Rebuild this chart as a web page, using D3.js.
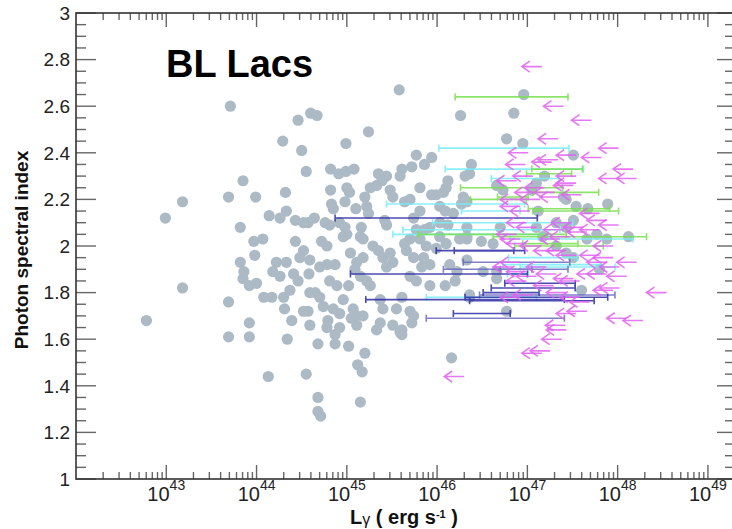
<!DOCTYPE html>
<html>
<head>
<meta charset="utf-8">
<script src="https://cdn.jsdelivr.net/npm/d3@7"></script>
<style>
body { margin: 0; background: #fff; }
svg { display: block; font-family: "Liberation Sans", Arial, Helvetica, sans-serif; }
</style>
</head>
<body>
<div id="chart"></div>
<script>
// detected sources: [log10 L, photon index]
var detected = [
[43.71,2.60],[44.46,2.54],[44.60,2.57],[44.67,2.56],[45.24,2.49],[45.58,2.67],[44.29,2.45],[44.50,2.41],[44.99,2.44],[44.55,2.32],
[44.82,2.33],[44.91,2.31],[44.99,2.32],[45.08,2.33],[45.35,2.31],[45.44,2.30],[45.39,2.28],[43.85,2.28],[43.69,2.21],[43.99,2.21],
[44.32,2.23],[43.18,2.19],[42.99,2.12],[44.82,2.24],[45.00,2.25],[45.03,2.23],[45.26,2.25],[45.33,2.26],[45.48,2.24],[45.51,2.21],
[45.20,2.21],[44.83,2.18],[44.85,2.16],[44.98,2.19],[45.10,2.16],[45.22,2.17],[45.24,2.14],[44.33,2.15],[44.14,2.13],[44.26,2.12],
[44.43,2.11],[44.52,2.10],[44.57,2.10],[44.64,2.12],[44.76,2.10],[44.81,2.09],[44.92,2.10],[44.98,2.08],[45.00,2.05],[44.96,2.04],
[45.16,2.08],[45.15,2.04],[45.18,2.03],[45.42,2.11],[45.44,2.09],[43.82,2.08],[43.97,2.02],[44.07,2.03],[44.43,2.02],[44.52,1.98],
[44.48,1.95],[44.72,2.02],[44.78,2.00],[44.59,1.94],[43.98,1.96],[43.82,1.93],[44.22,1.93],[44.33,1.93],[44.18,1.89],[44.26,1.87],
[43.86,1.89],[43.85,1.86],[44.41,1.88],[44.46,1.85],[44.58,1.88],[44.70,1.91],[44.78,1.92],[44.87,1.92],[45.04,1.97],[45.18,1.95],
[45.29,2.00],[45.35,1.98],[45.40,1.95],[45.48,1.97],[45.51,1.93],[45.44,1.91],[45.11,1.93],[45.09,1.90],[45.15,1.87],[45.02,1.83],
[45.22,1.85],[45.26,1.83],[44.81,1.85],[44.89,1.83],[43.92,1.83],[44.00,1.84],[43.18,1.82],[44.08,1.78],[44.17,1.78],[44.30,1.78],
[44.37,1.81],[44.59,1.80],[44.65,1.80],[44.70,1.78],[44.74,1.74],[44.96,1.77],[43.69,1.76],[44.31,1.73],[44.85,1.73],[44.92,1.71],
[45.07,1.73],[45.11,1.70],[45.18,1.70],[45.05,1.69],[45.37,1.77],[45.40,1.73],[45.55,1.73],[42.78,1.68],[44.39,1.68],[44.57,1.72],
[44.52,1.72],[44.79,1.68],[44.78,1.65],[43.92,1.67],[44.59,1.66],[44.92,1.65],[44.87,1.62],[45.11,1.66],[45.33,1.64],[45.37,1.67],
[45.51,1.66],[45.59,1.63],[43.69,1.61],[43.92,1.61],[44.34,1.60],[44.68,1.58],[44.87,1.58],[45.02,1.57],[45.20,1.54],[45.12,1.49],
[45.17,1.46],[44.13,1.44],[44.55,1.45],[44.68,1.35],[45.15,1.33],[44.68,1.29],[44.71,1.27],
[45.77,2.39],[45.94,2.38],[45.86,2.35],[45.72,2.34],[45.61,2.33],[45.59,2.30],[46.38,2.35],[46.36,2.31],[46.31,2.30],[46.12,2.28],
[46.10,2.25],[46.07,2.23],[45.99,2.22],[45.94,2.22],[45.81,2.25],[45.70,2.20],[45.64,2.19],[46.03,2.17],[46.09,2.15],[46.18,2.14],
[45.81,2.15],[45.74,2.12],[46.33,2.19],[46.27,2.18],[46.29,2.21],[46.66,2.26],[46.73,2.24],[46.77,2.46],[46.95,2.44],[46.03,2.10],
[46.12,2.09],[45.92,2.08],[45.86,2.07],[45.77,2.07],[45.70,2.03],[45.64,2.01],[46.33,2.08],[46.33,2.04],[46.25,2.03],[45.81,2.03],
[45.88,2.00],[46.03,2.04],[46.10,2.01],[45.99,1.99],[46.62,2.01],[46.70,2.08],[45.85,1.95],[45.74,1.95],[45.66,1.98],[45.92,1.92],
[45.83,1.91],[45.70,1.87],[45.77,1.85],[45.92,1.83],[46.09,1.83],[46.20,1.85],[46.51,1.89],[46.36,1.78],[46.77,1.72],[45.61,1.78],
[45.70,1.72],[45.72,1.67],[45.61,1.64],
[46.96,2.65],[46.26,2.56],[46.85,2.57],[47.51,2.39],[47.19,2.30],[47.10,2.27],[47.05,2.24],[47.40,2.21],[47.43,2.20],[47.89,2.18],
[47.67,2.16],[47.54,2.17],[47.12,2.15],[47.32,2.10],[47.43,2.08],[47.51,2.11],[47.88,2.03],[48.12,2.04],[47.66,2.03],[47.77,2.05],
[47.10,2.08],[47.17,2.04],[46.49,2.02],[46.33,2.03],[47.43,1.97],[47.51,1.95],[46.14,1.92],[46.22,1.89],[46.66,1.89],[47.32,2.00],
[46.66,1.86],[46.33,1.94],[47.60,1.81],[47.80,1.90],[46.36,1.79],[46.16,1.52],[45.74,1.70],[45.61,1.62]
];

// luminosity ranges: [photon index, log10 L low, log10 L high]
var greenBars = [
[2.64,46.20,47.45],[2.33,47.05,47.61],[2.31,46.99,47.49],[2.25,46.26,47.39],[2.23,47.06,47.79],[2.21,46.67,47.01],
[2.20,46.37,46.99],[2.16,47.01,47.91],[2.15,47.06,48.01],[2.05,45.79,47.43],[2.04,46.62,48.32],[2.01,46.95,47.56],[2.00,46.86,47.84]
];
var cyanBars = [
[2.42,46.02,47.46],[2.33,46.09,47.62],[2.29,46.60,47.35],[2.18,45.44,46.97],[2.15,46.27,46.92],[2.10,45.95,47.50],[2.07,45.62,47.36],
[2.05,45.51,47.23],[2.03,46.81,48.17],[1.95,46.79,47.55],[1.92,46.73,47.82],[1.91,46.92,47.97],[1.88,46.78,47.01],[1.78,45.88,47.10]
];
var navyBars = [
[2.12,44.87,47.11],[1.98,45.99,46.85],[1.98,46.19,46.97],[1.88,45.04,47.00],[1.84,46.75,47.53],[1.82,46.60,47.53],
[1.80,46.51,47.13],[1.78,46.31,47.89],[1.77,45.21,47.41],[1.765,46.36,47.74],[1.71,46.18,46.81]
];
var slateBars = [
[1.93,46.29,47.47],[1.90,46.07,47.45],[1.90,46.70,47.05],[1.79,46.47,47.97],[1.69,45.88,47.41]
];

// upper limits: [log10 L limit, photon index]
var upperLimits = [
[47.16,2.77],[47.40,2.60],[47.71,2.54],[47.34,2.46],[48.01,2.42],[47.01,2.40],[47.54,2.39],[47.82,2.38],[46.98,2.35],[47.27,2.36],
[47.34,2.37],[48.17,2.33],[48.01,2.29],[48.21,2.29],[47.54,2.30],[47.06,2.30],[46.88,2.28],[47.51,2.26],[47.19,2.25],[47.30,2.23],
[47.08,2.23],[46.92,2.20],[47.36,2.21],[47.60,2.22],[46.92,2.17],[47.14,2.20],[47.03,2.15],[48.01,2.09],[47.80,2.14],[47.88,2.11],
[47.49,2.10],[47.62,2.08],[47.40,2.07],[46.99,2.10],[47.10,2.08],[46.88,2.05],[46.92,2.03],[46.99,2.01],[47.14,2.00],[47.36,2.03],
[47.47,2.04],[47.66,2.06],[47.80,2.07],[47.95,2.00],[47.43,1.98],[47.54,1.96],[46.92,1.93],[46.84,1.91],[46.99,1.89],[47.21,1.91],
[47.32,1.88],[47.88,1.93],[48.02,1.91],[48.21,1.93],[47.77,1.88],[48.10,1.87],[47.54,2.27],[47.29,1.98],[47.80,1.96],[47.95,1.95],
[47.88,1.88],[47.10,1.87],[46.99,1.85],[47.51,1.86],[47.58,1.85],[47.95,1.81],[48.02,1.82],[48.54,1.80],[47.29,1.83],[47.43,1.80],
[46.92,1.78],[47.06,1.79],[47.58,1.78],[47.69,1.76],[47.54,1.71],[48.10,1.69],[48.28,1.68],[47.42,1.66],[47.43,1.64],[47.38,1.60],
[47.16,1.54],[47.25,1.55],[46.30,1.44],[47.66,1.72]
];

var yMajor = [1, 1.2, 1.4, 1.6, 1.8, 2, 2.2, 2.4, 2.6, 2.8, 3];
var xDecades = [43, 44, 45, 46, 47, 48, 49];

var width = 732, height = 529;
var plot = {left: 76, right: 735, top: 13, bottom: 479};

var svg = d3.select("#chart")
  .append("svg")
    .attr("width", width)
    .attr("height", height);

var x = d3.scaleLog()
    .domain([1e42, Math.pow(10, 49.3)])
    .range([plot.left, plot.right]);

var y = d3.scaleLinear()
    .domain([1, 3])
    .range([plot.bottom, plot.top]);

function L(v) { return Math.pow(10, v); }

// detected points
svg.append("g")
  .selectAll("circle")
  .data(detected)
  .enter()
  .append("circle")
    .attr("cx", function(d) { return x(L(d[0])); })
    .attr("cy", function(d) { return y(d[1]); })
    .attr("r", 5.6)
    .style("fill", "#abbac5");

// error bars
function drawBars(data, color) {
  var g = svg.append("g")
    .style("stroke", color)
    .style("stroke-width", 1.6)
    .style("opacity", 0.85);
  data.forEach(function(d) {
    var yy = y(d[0]), x1 = x(L(d[1])), x2 = x(L(d[2]));
    g.append("line").attr("x1", x1).attr("x2", x2).attr("y1", yy).attr("y2", yy);
    g.append("line").attr("x1", x1).attr("x2", x1).attr("y1", yy - 3.5).attr("y2", yy + 3.5);
    g.append("line").attr("x1", x2).attr("x2", x2).attr("y1", yy - 3.5).attr("y2", yy + 3.5);
  });
}
drawBars(cyanBars, "#74eef7");
drawBars(greenBars, "#79e04f");
drawBars(slateBars, "#6a6ac0");
drawBars(navyBars, "#2c2ca6");

// upper limit arrows, 20px long, pointing left
svg.append("g")
  .selectAll("path")
  .data(upperLimits)
  .enter()
  .append("path")
    .attr("d", function(d) {
      var x0 = x(L(d[0])), yy = y(d[1]), tip = x0 - 20;
      return "M" + x0 + "," + yy + "H" + tip +
        "M" + (tip + 8) + "," + (yy - 5.5) + "L" + tip + "," + yy + "L" + (tip + 8) + "," + (yy + 5.5);
    })
    .style("fill", "none")
    .style("stroke", "#e061f2")
    .style("stroke-width", 1.6)
    .style("opacity", 0.85);

// frame and ticks
var yMinor = d3.range(1, 3.001, 0.05).filter(function(v) { return Math.abs(v * 5 - Math.round(v * 5)) > 1e-6; });
var xMinor = [];
for (var e = 42; e <= 49; e++) {
  for (var k = 2; k <= 9; k++) {
    var v = k * Math.pow(10, e);
    if (v < x.domain()[1]) xMinor.push(v);
  }
}

var ticks = svg.append("g").style("stroke", "#666").style("stroke-width", 1.4);
yMajor.forEach(function(v) {
  ticks.append("line").attr("x1", plot.left).attr("x2", plot.left + 20).attr("y1", y(v)).attr("y2", y(v));
  ticks.append("line").attr("x1", plot.right).attr("x2", plot.right - 18).attr("y1", y(v)).attr("y2", y(v));
});
yMinor.forEach(function(v) {
  ticks.append("line").attr("x1", plot.left).attr("x2", plot.left + 10).attr("y1", y(v)).attr("y2", y(v));
  ticks.append("line").attr("x1", plot.right).attr("x2", plot.right - 10).attr("y1", y(v)).attr("y2", y(v));
});
xDecades.forEach(function(e) {
  var px = x(L(e));
  ticks.append("line").attr("x1", px).attr("x2", px).attr("y1", plot.bottom).attr("y2", plot.bottom - 14);
  ticks.append("line").attr("x1", px).attr("x2", px).attr("y1", plot.top).attr("y2", plot.top + 14);
});
xMinor.forEach(function(v) {
  var px = x(v);
  ticks.append("line").attr("x1", px).attr("x2", px).attr("y1", plot.bottom).attr("y2", plot.bottom - 7);
  ticks.append("line").attr("x1", px).attr("x2", px).attr("y1", plot.top).attr("y2", plot.top + 7);
});

svg.append("rect")
    .attr("x", plot.left)
    .attr("y", plot.top)
    .attr("width", plot.right - plot.left)
    .attr("height", plot.bottom - plot.top)
    .style("fill", "none")
    .style("stroke", "#333")
    .style("stroke-width", 1.6);

// tick labels
svg.append("g")
  .selectAll("text")
  .data(yMajor)
  .enter()
  .append("text")
    .attr("x", 70)
    .attr("y", function(d) { return y(d); })
    .attr("dy", "0.36em")
    .attr("text-anchor", "end")
    .style("font-size", "19px")
    .style("fill", "#222")
    .text(function(d) { return d; });

var xl = svg.append("g")
  .selectAll("text")
  .data(xDecades)
  .enter()
  .append("text")
    .attr("x", function(d) { return x(L(d)); })
    .attr("y", 501)
    .attr("text-anchor", "middle")
    .style("fill", "#222");
xl.append("tspan").style("font-size", "20px").text("10");
xl.append("tspan").attr("dy", -11).style("font-size", "14px").text(function(d) { return d; });

// axis titles
var xt = svg.append("text")
    .attr("x", 404)
    .attr("y", 524)
    .attr("text-anchor", "middle")
    .style("font-weight", "bold")
    .style("font-size", "20px")
    .style("fill", "#111");
xt.append("tspan").text("L");
xt.append("tspan").attr("dy", 1).style("font-weight", "normal").style("font-size", "16px").text("γ");
xt.append("tspan").attr("dy", -1).text(" ( erg s");
xt.append("tspan").attr("dy", -6).style("font-size", "11px").text("-1");
xt.append("tspan").attr("dy", 6).text(" )");

svg.append("text")
    .attr("transform", "translate(28,250) rotate(-90)")
    .attr("text-anchor", "middle")
    .style("font-weight", "bold")
    .style("font-size", "19px")
    .style("fill", "#111")
    .text("Photon spectral index");

svg.append("text")
    .attr("x", 166)
    .attr("y", 77)
    .style("font-weight", "bold")
    .style("font-size", "38px")
    .style("fill", "#000")
    .text("BL Lacs");
</script>
</body>
</html>
